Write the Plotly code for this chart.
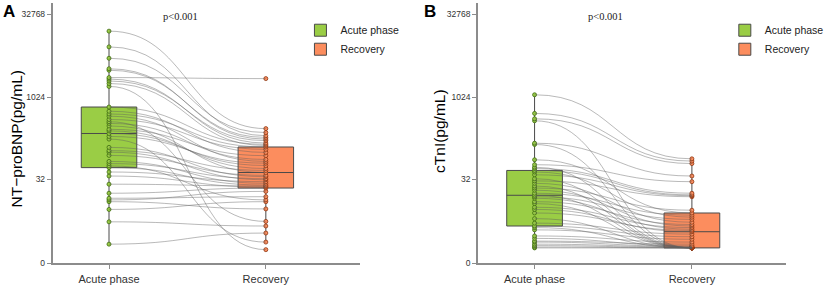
import numpy as np
import plotly.graph_objects as go

# ---------------- data (pg/mL), paired by patient ----------------
categories = ["Acute phase", "Recovery"]
y_tick_values = [0, 32, 1024, 32768]
panel_titles = ["NT\u2212proBNP(pg/mL)", "cTnI(pg/mL)"]
panel_letters = ["A", "B"]
p_values = ["p<0.001", "p<0.001"]

ntprobnp_acute = [16270, 8420, 5230, 3370, 3170, 2330, 2190, 2020, 1820, 1610,
                  680, 570, 508, 463, 403, 367, 342, 307, 267, 250,
                  224, 198, 177, 125, 109, 102, 89, 69, 63, 57,
                  53, 44, 37, 26, 17.5, 14, 13, 12, 8.4, 4.6, 1.2]
ntprobnp_recovery = [275, 204, 233, 177, 190, 2234, 150, 166, 135, 0.75,
                     142, 101, 127, 69, 115, 4.7, 75, 43, 88, 51,
                     58, 64, 1.4, 36, 47, 31.5, 38, 27, 33, 13,
                     25, 29, 23, 24, 22, 15, 19, 8.6, 12, 3.7, 2.5]

ctni_acute = [1135, 520, 415, 382, 149, 141, 74, 60, 54, 51,
              47, 44, 39, 33, 30, 27, 24, 22, 20, 17.5,
              16, 15, 14, 12, 11, 9.3, 8.4, 7.1, 5.4, 4.3,
              3.7, 3.4, 3.0, 2.1, 1.8, 1.5, 1.4, 1.2, 1.07, 0.95, 0.88]
ctni_recovery = [77, 70, 63, 0.88, 37, 0.88, 7.1, 29, 0.88, 17.5,
                 16.3, 5.8, 15.7, 0.88, 15, 4.5, 0.88, 8.1, 3.7, 6.4,
                 0.88, 5.2, 3.1, 4.0, 0.88, 3.4, 2.7, 2.9, 0.88, 2.35,
                 2.0, 0.88, 1.7, 1.4, 1.05, 1.2, 1.0, 0.95, 0.9, 0.88, 0.88]

# ---------------- style ----------------
GREEN = "#9ACD45"
GREEN_EDGE = "#3f6b12"
ORANGE = "#FC8D5E"
ORANGE_EDGE = "#8a3510"
FONT = "Liberation Sans, Arial, sans-serif"
SERIF = "Liberation Serif, Times New Roman, serif"
W, H = 829, 288


def tr(v):
    return np.log2(np.asarray(v, dtype=float) + 1.0)


fig = go.Figure()

panels = [
    (ntprobnp_acute, ntprobnp_recovery, "x", "y", "legend"),
    (ctni_acute, ctni_recovery, "x2", "y2", "legend2"),
]

for acute, rec, xa, ya, lg in panels:
    for vals, pos, name, fill, edge in [
        (acute, 1, categories[0], GREEN, GREEN_EDGE),
        (rec, 2, categories[1], ORANGE, ORANGE_EDGE),
    ]:
        fig.add_trace(go.Box(
            y=tr(vals), x=[pos] * len(vals), name=name,
            xaxis=xa, yaxis=ya, legend=lg,
            boxpoints="all", jitter=0, pointpos=0, width=0.354,
            fillcolor=fill, line=dict(color="#4a4a4a", width=1),
            marker=dict(color=fill, size=4, line=dict(color=edge, width=0.8)),
            whiskerwidth=0, quartilemethod="inclusive",
        ))
    for a, r in zip(tr(acute), tr(rec)):
        fig.add_shape(
            type="path",
            path=f"M 1,{a:.4f} C 1.5,{a:.4f} 1.5,{r:.4f} 2,{r:.4f}",
            xref=xa, yref=ya,
            line=dict(color="rgba(95,95,95,0.55)", width=0.8),
            layer="above",
        )

y_dom = [1 - 268 / H, 1 - 3 / H]
xr = [0.64, 2.60]
xaxis_common = dict(
    range=xr, tickvals=[1, 2], ticktext=categories, showline=True,
    linecolor="#8c8c8c", linewidth=2, ticks="outside", ticklen=4,
    tickcolor="#8c8c8c", tickfont=dict(size=11, color="#333333", family=FONT),
    showgrid=False, zeroline=False,
)
yaxis_common = dict(
    range=[-0.02, 15.69], tickvals=list(tr(y_tick_values)),
    ticktext=[str(t) for t in y_tick_values], showline=True,
    linecolor="#8c8c8c", linewidth=1.5, ticks="outside", ticklen=4,
    tickcolor="#8c8c8c", tickfont=dict(size=8.5, color="#333333", family=FONT),
    showgrid=False, zeroline=False, domain=y_dom,
)

fig.update_layout(
    width=W, height=H,
    margin=dict(l=0, r=0, t=0, b=0),
    paper_bgcolor="white", plot_bgcolor="white",
    xaxis=dict(domain=[53 / W, 363 / W], anchor="y", **xaxis_common),
    xaxis2=dict(domain=[482 / W, 793 / W], anchor="y2", **xaxis_common),
    yaxis=dict(anchor="x", **yaxis_common),
    yaxis2=dict(anchor="x2", **yaxis_common),
    boxmode="overlay",
    legend=dict(x=303 / W, y=1 - 16 / H, xanchor="left", yanchor="top",
                font=dict(size=10.5, color="#222222", family=FONT),
                bgcolor="rgba(0,0,0,0)", tracegroupgap=0),
    legend2=dict(x=731 / W, y=1 - 16 / H, xanchor="left", yanchor="top",
                 font=dict(size=10.5, color="#222222", family=FONT),
                 bgcolor="rgba(0,0,0,0)", tracegroupgap=0),
    showlegend=True,
)

annotations = []
for letter, xpx in zip(panel_letters, [9, 434]):
    annotations.append(dict(text=f"<b>{letter}</b>", x=xpx / W, y=1 - 12 / H,
                            xref="paper", yref="paper", showarrow=False,
                            xanchor="center", yanchor="middle",
                            font=dict(size=17, color="black", family=FONT)))
for ptxt, xpx in zip(p_values, [182, 611]):
    annotations.append(dict(text=ptxt, x=xpx / W, y=1 - 17 / H,
                            xref="paper", yref="paper", showarrow=False,
                            xanchor="center", yanchor="middle",
                            font=dict(size=10.5, color="#222222", family=SERIF)))
for title, xpx, ypx in zip(panel_titles, [17, 443], [141, 133]):
    annotations.append(dict(text=title, x=xpx / W, y=1 - ypx / H,
                            xref="paper", yref="paper", showarrow=False,
                            xanchor="center", yanchor="middle",
                            textangle=-90,
                            font=dict(size=15.5, color="black", family=FONT)))
fig.update_layout(annotations=annotations)

fig.write_html(
    "out.html",
    config={"displayModeBar": False},
    post_script="document.body.style.margin='0';document.body.style.overflow='hidden';",
)
